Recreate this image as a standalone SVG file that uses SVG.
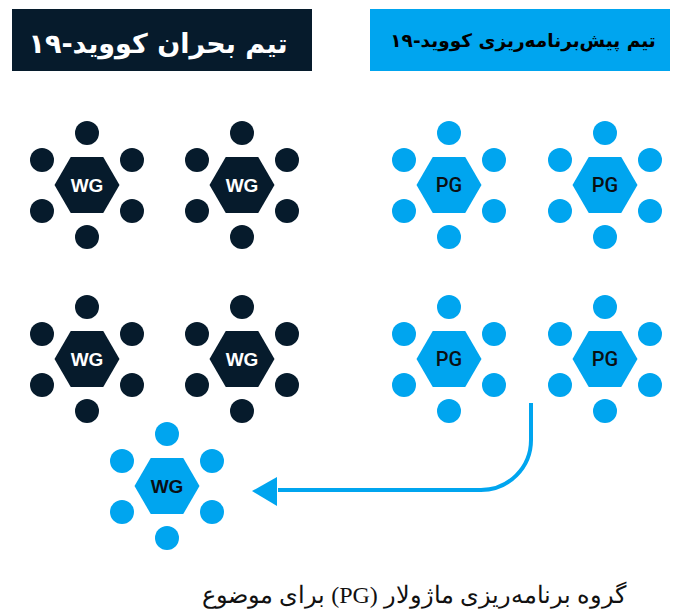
<svg xmlns="http://www.w3.org/2000/svg" width="673" height="613" viewBox="0 0 673 613">
<defs>
<style>
.dk{fill:#061b2c}
.bl{fill:#00a5ef}
.hdr{font-family:"DejaVu Sans","Noto Sans",sans-serif;font-weight:bold}
.lbl{font-family:"Liberation Sans",Arial,sans-serif;font-weight:bold;font-size:19px;text-anchor:middle}
.pg{font-family:Roboto,"Liberation Sans",Arial,sans-serif;font-weight:500;font-size:20px;text-anchor:middle;fill:#0a0f14}
.cap{font-family:"Liberation Serif","DejaVu Serif",serif;font-size:24px;text-anchor:middle;fill:#111}
</style>
<g id="cluster">
<polygon points="-32.5,0 -16.25,-28 16.25,-28 32.5,0 16.25,28 -16.25,28"/>
<circle cx="0" cy="-52" r="12"/>
<circle cx="0" cy="52" r="12"/>
<circle cx="-45" cy="-25" r="12"/>
<circle cx="45" cy="-25" r="12"/>
<circle cx="-45" cy="26" r="12"/>
<circle cx="45" cy="26" r="12"/>
</g>
</defs>
<rect width="673" height="613" fill="#fff"/>
<g id="header-crisis">
<rect x="12" y="9" width="300" height="62" class="dk"/>
<text x="158" y="53" class="hdr" font-size="27" fill="#fff" text-anchor="middle" direction="rtl">تیم بحران کووید-۱۹</text>
</g>
<g id="header-planning">
<rect x="370" y="9" width="300" height="62" class="bl"/>
<text x="523" y="47" class="hdr" font-size="18.5" fill="#000" text-anchor="middle" direction="rtl">تیم پیش&#x200C;برنامه&#x200C;ریزی کووید-۱۹</text>
</g>
<g id="wg1" class="dk"><use href="#cluster" x="87" y="185"/><text x="87" y="192" class="lbl" fill="#fff">WG</text></g>
<g id="wg2" class="dk"><use href="#cluster" x="242" y="185"/><text x="242" y="192" class="lbl" fill="#fff">WG</text></g>
<g id="wg3" class="dk"><use href="#cluster" x="87" y="359"/><text x="87" y="366" class="lbl" fill="#fff">WG</text></g>
<g id="wg4" class="dk"><use href="#cluster" x="242" y="359"/><text x="242" y="366" class="lbl" fill="#fff">WG</text></g>
<g id="pg1" class="bl"><use href="#cluster" x="449" y="185"/><text x="449" y="192" class="pg">PG</text></g>
<g id="pg2" class="bl"><use href="#cluster" x="605" y="185"/><text x="605" y="192" class="pg">PG</text></g>
<g id="pg3" class="bl"><use href="#cluster" x="449" y="359"/><text x="449" y="366" class="pg">PG</text></g>
<g id="pg4" class="bl"><use href="#cluster" x="605" y="359"/><text x="605" y="366" class="pg">PG</text></g>
<g id="wg-new" class="bl"><use href="#cluster" x="167" y="486"/><text x="167" y="493" class="lbl" fill="#0a0f14">WG</text></g>
<g id="connectors">
<path d="M531,403 V440 A50,50 0 0 1 481,490 H278" fill="none" stroke="#00a5ef" stroke-width="4"/>
<polygon points="252,491 277,477 277,506" fill="#00a5ef"/>
</g>
<g id="caption">
<text x="414" y="603" class="cap" direction="rtl">گروه برنامه&#x200C;ریزی ماژولار (PG) برای موضوع</text>
</g>
</svg>
